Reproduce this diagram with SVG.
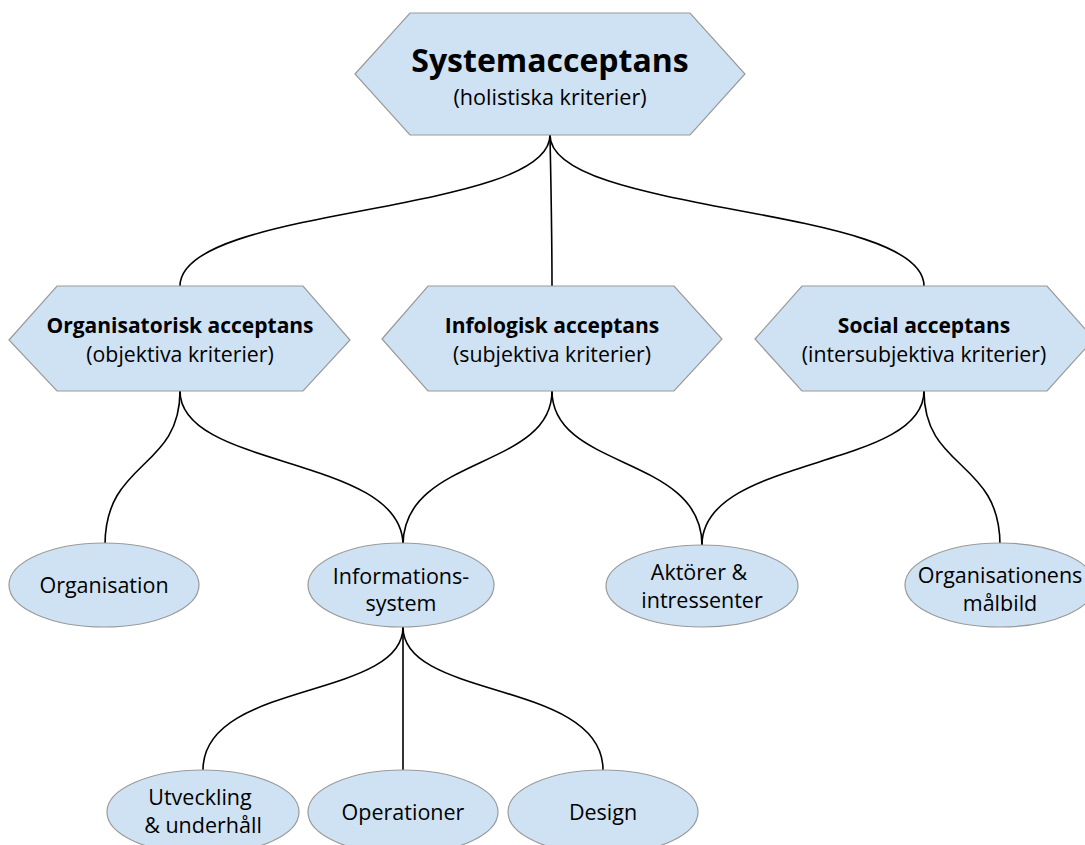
<svg xmlns="http://www.w3.org/2000/svg" width="1085" height="845" viewBox="0 0 1085 845">
  <style>
    .shape { fill: #cfe2f3; stroke: #9a9a9a; stroke-width: 1.2; }
    .link { fill: none; stroke: #000000; stroke-width: 1.6; }
    text { font-family: "Open Sans", "Noto Sans", "DejaVu Sans", sans-serif; fill: #000000; text-anchor: middle; }
    .title { font-size: 32px; font-weight: bold; }
    .head { font-size: 21px; font-weight: bold; }
    .sub { font-size: 21.3px; }
    .sub20 { font-size: 21.6px; }
    .leaf { font-size: 21.5px; }
  </style>
  <rect width="1085" height="845" fill="#ffffff"/>

  <!-- connectors -->
  <g id="connectors">
    <path class="link" d="M550,135 C550,215 180,205 180,286"/>
    <path class="link" d="M550,135 C551,190 552,230 552,286"/>
    <path class="link" d="M550,135 C550,215 924,205 924,286"/>
    <path class="link" d="M180,391 C180,470 105,460 105,545"/>
    <path class="link" d="M180,391 C180,470 403,455 403,545"/>
    <path class="link" d="M552,391 C552,470 403,455 403,545"/>
    <path class="link" d="M552,391 C552,470 702,455 702,545"/>
    <path class="link" d="M924,391 C924,470 702,455 702,545"/>
    <path class="link" d="M924,391 C924,470 1000,460 1000,545"/>
    <path class="link" d="M403,627 C403,700 203,680 203,770"/>
    <path class="link" d="M403,627 L403,770"/>
    <path class="link" d="M403,627 C403,700 603,680 603,770"/>
  </g>

  <!-- root -->
  <g id="systemacceptans">
    <path class="shape" d="M355,74 L410,13 L690,13 L745,74 L690,135 L410,135 Z"/>
    <text class="title" x="550" y="72">Systemacceptans</text>
    <text class="sub20" x="550" y="105">(holistiska kriterier)</text>
  </g>

  <!-- second level -->
  <g id="organisatorisk">
    <path class="shape" d="M9,340 L57,286 L303,286 L350,340 L303,391 L57,391 Z"/>
    <text class="head" x="180" y="333">Organisatorisk acceptans</text>
    <text class="sub" x="180" y="362">(objektiva kriterier)</text>
  </g>
  <g id="infologisk">
    <path class="shape" d="M382,339 L428,286 L674,286 L722,339 L674,391 L428,391 Z"/>
    <text class="head" x="552" y="333">Infologisk acceptans</text>
    <text class="sub" x="552" y="362">(subjektiva kriterier)</text>
  </g>
  <g id="social">
    <path class="shape" d="M755,339 L802,286 L1047,286 L1094,339 L1047,391 L802,391 Z"/>
    <text class="head" x="924" y="333">Social acceptans</text>
    <text class="sub" x="924" y="362">(intersubjektiva kriterier)</text>
  </g>

  <!-- third level -->
  <g id="organisation">
    <ellipse class="shape" cx="104" cy="585" rx="95" ry="42"/>
    <text class="leaf" x="104" y="593">Organisation</text>
  </g>
  <g id="informationssystem">
    <ellipse class="shape" cx="401" cy="585" rx="93" ry="42"/>
    <text class="leaf" x="401" y="584">Informations-</text>
    <text class="leaf" x="401" y="611">system</text>
  </g>
  <g id="aktorer">
    <ellipse class="shape" cx="702" cy="586" rx="96" ry="41"/>
    <text class="leaf" x="699" y="580">Aktörer &amp;</text>
    <text class="leaf" x="702" y="608">intressenter</text>
  </g>
  <g id="malbild">
    <ellipse class="shape" cx="1000" cy="585" rx="95" ry="42"/>
    <text class="leaf" x="1000" y="583">Organisationens</text>
    <text class="leaf" x="1000" y="611">målbild</text>
  </g>

  <!-- fourth level -->
  <g id="utveckling">
    <ellipse class="shape" cx="203" cy="812" rx="96" ry="42"/>
    <text class="leaf" x="200" y="805">Utveckling</text>
    <text class="leaf" x="203" y="833">&amp; underhåll</text>
  </g>
  <g id="operationer">
    <ellipse class="shape" cx="403" cy="812" rx="95" ry="42"/>
    <text class="leaf" x="403" y="820">Operationer</text>
  </g>
  <g id="design">
    <ellipse class="shape" cx="603" cy="812" rx="95" ry="42"/>
    <text class="leaf" x="603" y="820">Design</text>
  </g>
</svg>
